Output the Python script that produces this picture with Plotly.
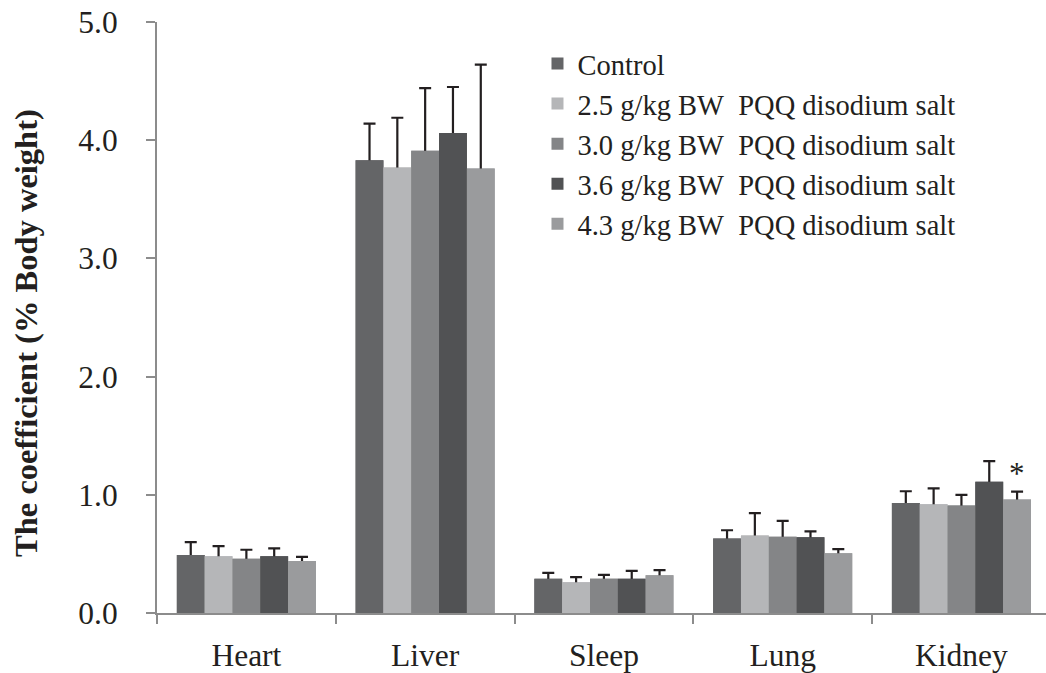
import plotly.graph_objects as go

organs = ["Heart", "Liver", "Sleep", "Lung", "Kidney"]
series_names = [
    "Control",
    "2.5 g/kg BW\u00a0 PQQ disodium salt",
    "3.0 g/kg BW\u00a0 PQQ disodium salt",
    "3.6 g/kg BW\u00a0 PQQ disodium salt",
    "4.3 g/kg BW\u00a0 PQQ disodium salt",
]
control = [0.49, 3.83, 0.29, 0.63, 0.93]
dose_25 = [0.48, 3.77, 0.26, 0.655, 0.92]
dose_30 = [0.46, 3.91, 0.29, 0.645, 0.91]
dose_36 = [0.48, 4.06, 0.29, 0.64, 1.11]
dose_43 = [0.44, 3.76, 0.32, 0.505, 0.96]
control_err = [0.11, 0.31, 0.05, 0.07, 0.10]
dose_25_err = [0.085, 0.42, 0.043, 0.19, 0.135]
dose_30_err = [0.075, 0.53, 0.033, 0.135, 0.09]
dose_36_err = [0.067, 0.39, 0.067, 0.05, 0.175]
dose_43_err = [0.034, 0.88, 0.042, 0.035, 0.067]
colors = ["#646567", "#b5b6b8", "#848587", "#515254", "#9a9b9d"]
significance = {"Kidney": (4, "*")}  # organ: (series index, mark)
y_ticks = [0, 1, 2, 3, 4, 5]
y_title = "The coefficient (% Body weight)"

values = [control, dose_25, dose_30, dose_36, dose_43]
errors = [control_err, dose_25_err, dose_30_err, dose_36_err, dose_43_err]

FONT = "Liberation Serif"
INK = "#231f20"
BARGAP = 0.222

fig = go.Figure()
# layer 1: bars with (symmetric) error bars
for i, (name, vals, errs, col) in enumerate(zip(series_names, values, errors, colors)):
    fig.add_trace(go.Bar(
        x=organs, y=vals, name=name, marker_color=col, marker_line_width=0,
        legendgroup=f"g{i}", showlegend=True, xaxis="x", yaxis="y",
        error_y=dict(type="data", array=errs, color=INK, thickness=2.2, width=6),
    ))
# layer 2: same bars drawn on top, hiding the lower half of the error bars
for i, (name, vals, col) in enumerate(zip(series_names, values, colors)):
    fig.add_trace(go.Bar(
        x=organs, y=vals, name=name, marker_color=col, marker_line_width=0,
        legendgroup=f"g{i}", showlegend=False, xaxis="x2", yaxis="y",
        hoverinfo="skip",
    ))

n = len(series_names)
bw = (1 - BARGAP) / n
for organ, (si, mark) in significance.items():
    k = organs.index(organ)
    xpos = k - (1 - BARGAP) / 2 + bw * (si + 0.5)
    fig.add_annotation(x=xpos, y=values[si][k] + errors[si][k], xref="x", yref="y",
                       text=mark, showarrow=False, yanchor="bottom", yshift=-1,
                       font=dict(family=FONT, size=31, color=INK))

plot_left, plot_w = 157, 889
fig.add_annotation(xref="paper", yref="paper",
                   x=(26 - plot_left) / plot_w, y=(617 - 335) / 595,
                   xanchor="center", yanchor="middle", textangle=-90,
                   text=f"<b>{y_title}</b>", showarrow=False,
                   font=dict(family=FONT, size=32.5, color=INK))

axis_col = "#8c8c8c"
xaxis_common = dict(type="category", range=[-0.5, 4.473], showgrid=False)
fig.update_layout(
    width=1046, height=673,
    margin=dict(l=plot_left, r=0, t=22, b=56),
    paper_bgcolor="white", plot_bgcolor="white",
    barmode="group", bargap=BARGAP, bargroupgap=0,
    font=dict(family=FONT, size=31.5, color=INK),
    showlegend=True,
    legend=dict(x=0.428, y=0.972, xanchor="left", yanchor="top",
                font=dict(family=FONT, size=28.5, color=INK),
                bgcolor="rgba(0,0,0,0)", traceorder="grouped", tracegroupgap=0,
                itemwidth=30),
    xaxis=dict(**xaxis_common, showline=True, linecolor=axis_col,
               linewidth=2, ticks="outside", tickson="boundaries", ticklen=9,
               tickcolor=axis_col, tickwidth=2,
               tickfont=dict(family=FONT, size=31.5, color=INK),
               ticklabelstandoff=13),
    xaxis2=dict(**xaxis_common, overlaying="x", matches="x", visible=False),
    yaxis=dict(range=[0, 5], tickvals=y_ticks,
               ticktext=[f"{v:.1f}" for v in y_ticks],
               showline=True, linecolor=axis_col, linewidth=2, ticks="outside",
               ticklen=9, tickcolor=axis_col, tickwidth=2, showgrid=False, zeroline=False,
               tickfont=dict(family=FONT, size=31.5, color=INK),
               ticklabelstandoff=22),
)

fig.write_html("out.html")
